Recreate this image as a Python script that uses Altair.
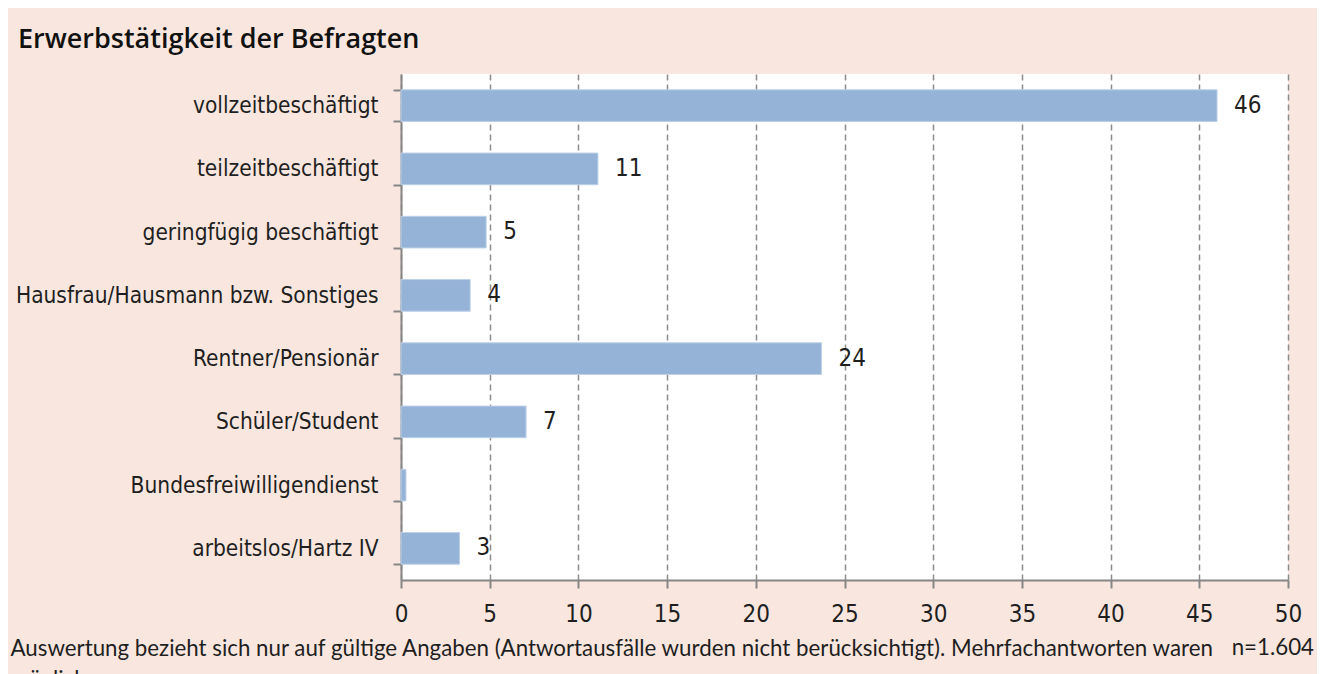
import altair as alt
import pandas as pd

# ---- data ----
categories = [
    "vollzeitbeschäftigt",
    "teilzeitbeschäftigt",
    "geringfügig beschäftigt",
    "Hausfrau/Hausmann bzw. Sonstiges",
    "Rentner/Pensionär",
    "Schüler/Student",
    "Bundesfreiwilligendienst",
    "arbeitslos/Hartz IV",
]
values = [46.0, 11.1, 4.8, 3.9, 23.7, 7.05, 0.28, 3.3]
value_labels = ["46", "11", "5", "4", "24", "7", "", "3"]
x_ticks = [0, 5, 10, 15, 20, 25, 30, 35, 40, 45, 50]
title_text = "Erwerbstätigkeit der Befragten"
footnote_lines = [
    "Auswertung bezieht sich nur auf gültige Angaben (Antwortausfälle wurden nicht berücksichtigt). Mehrfachantworten waren",
    "möglich",
]
sample_note = ["n=1.604"]

df = pd.DataFrame({"category": categories, "value": values, "label": value_labels})

LABEL_FONT = "DejaVu Sans Condensed, Roboto, sans-serif"
NOTE_FONT = "Lato"
TITLE_FONT = "Open Sans"
TEXT_COLOR = "#1f1f1f"
AXIS_GRAY = "#868686"
CAT_SIZE = 22.5
NUM_SIZE = 24
NOTE_SIZE = 22.3

x_enc = alt.X(
    "value:Q",
    scale=alt.Scale(domain=[0, 50], nice=False, zero=True),
    axis=alt.Axis(
        values=x_ticks,
        grid=True,
        gridDash=[6, 4],
        gridColor="#8c8c8c",
        gridWidth=1.5,
        domainColor=AXIS_GRAY,
        domainWidth=2,
        tickColor=AXIS_GRAY,
        tickWidth=2,
        tickSize=8,
        labelFont=LABEL_FONT,
        labelFontSize=NUM_SIZE,
        labelColor=TEXT_COLOR,
        labelPadding=14,
        labelFlush=False,
        title=footnote_lines,
        titleFont=NOTE_FONT,
        titleFontSize=NOTE_SIZE,
        titleFontWeight="normal",
        titleColor=TEXT_COLOR,
        titleX=-391,
        titleY=75,
        titleAlign="left",
        titleAnchor="start",
        titleBaseline="alphabetic",
        titleLineHeight=31,
    ),
)
y_enc = alt.Y(
    "category:N",
    sort=categories,
    scale=alt.Scale(paddingInner=0.5, paddingOuter=0.25),
    axis=alt.Axis(
        title=None,
        grid=False,
        tickBand="extent",
        domainColor=AXIS_GRAY,
        domainWidth=2,
        tickColor=AXIS_GRAY,
        tickWidth=2,
        tickSize=8,
        labelFont=LABEL_FONT,
        labelFontSize=CAT_SIZE,
        labelColor=TEXT_COLOR,
        labelPadding=15,
        labelLimit=0,
    ),
)

base = alt.Chart(df)
bars = base.mark_bar(color="#95B3D7", stroke="#BCD0E8", strokeWidth=1).encode(x=x_enc, y=y_enc)
labels = base.mark_text(
    align="left", baseline="middle", dx=17, font=LABEL_FONT, fontSize=NUM_SIZE, color=TEXT_COLOR
).encode(x="value:Q", y=alt.Y("category:N", sort=categories), text="label:N")

note = alt.Chart(pd.DataFrame({"t": sample_note})).mark_text(
    align="right", baseline="alphabetic", font=NOTE_FONT, fontSize=NOTE_SIZE, color=TEXT_COLOR
).encode(x=alt.value(913), y=alt.value(581), text="t:N")

chart = (
    alt.layer(bars, labels, note)
    .properties(
        width=887,
        height=506,
        autosize=alt.AutoSizeParams(type="none"),
        padding={"left": 393, "top": 66, "right": 29, "bottom": 94},
        background="#F9E7DF",
        title=alt.Title(
            title_text,
            anchor="start",
            frame="group",
            dx=-383,
            dy=41,
            offset=29,
            baseline="alphabetic",
            font=TITLE_FONT,
            fontSize=27,
            fontWeight=600,
            color="#111111",
        ),
    )
    .configure_view(fill="white", strokeWidth=0)
)

chart.save("out.html", embed_options={"renderer": "svg", "actions": False})
